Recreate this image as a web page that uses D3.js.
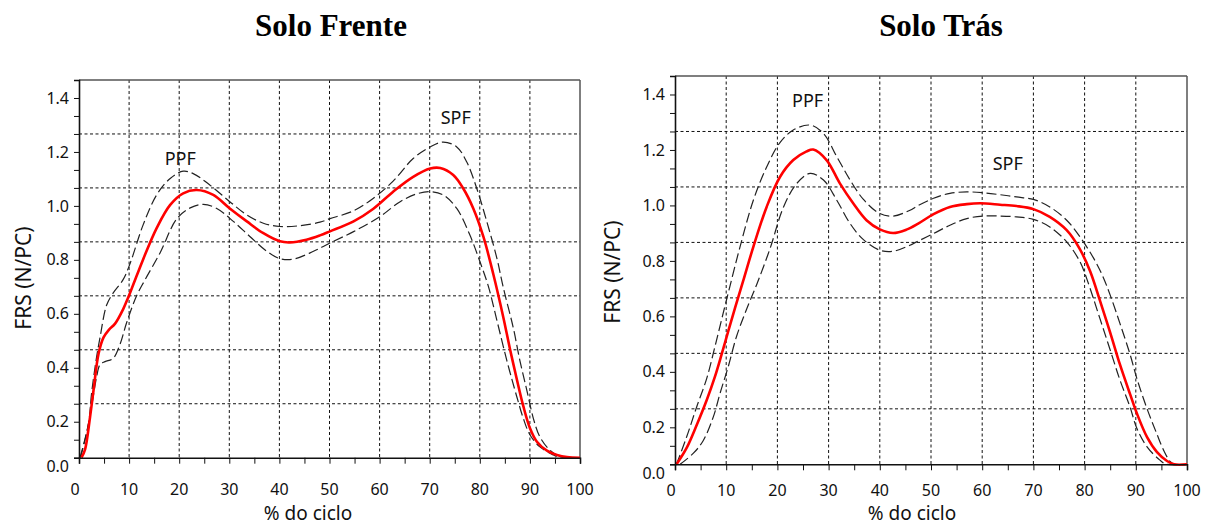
<!DOCTYPE html>
<html>
<head>
<meta charset="utf-8">
<script src="https://cdn.jsdelivr.net/npm/d3@7"></script>
<style>
  html, body { margin: 0; padding: 0; background: #fff; }
  svg { display: block; }
</style>
</head>
<body>
<svg id="chart" width="1215" height="526"></svg>
<script>
// ---------------- DATA ----------------
const panelTitles = ["Solo Frente", "Solo Trás"];
const xLabel = "% do ciclo";
const yLabel = "FRS (N/PC)";
const xTickValues = [0, 10, 20, 30, 40, 50, 60, 70, 80, 90, 100];
const yTickValues = [0, 0.2, 0.4, 0.6, 0.8, 1.0, 1.2, 1.4];
const yTickLabels = ["0.0", "0.2", "0.4", "0.6", "0.8", "1.0", "1.2", "1.4"];
const peakLabels = ["PPF", "SPF"];

// Solo Frente: [% do ciclo, FRS]
const frenteMedia = [[0.5,0],[1.2,0.03],[2.2,0.15],[2.9,0.25],[3.9,0.385],[4.9,0.446],[6,0.475],[7.2,0.497],[8.8,0.55],[9.8,0.593],[10.8,0.64],[12.8,0.735],[15.5,0.851],[18.2,0.937],[20.8,0.98],[23.5,0.992],[26.8,0.974],[30.1,0.924],[33.5,0.876],[36.8,0.832],[40.1,0.802],[42.1,0.798],[45.4,0.808],[48.1,0.824],[50.1,0.839],[54.8,0.876],[58.7,0.922],[62.7,0.986],[66.7,1.041],[70.1,1.072],[72.1,1.074],[74.7,1.048],[76.7,0.998],[78.7,0.924],[80.7,0.82],[82.7,0.68],[84.7,0.52],[86.0,0.405],[87.4,0.29],[88.7,0.19],[90.0,0.11],[91.4,0.059],[93.4,0.026],[95.4,0.01],[97.4,0.002],[100,0]];
const frenteSup = [[0.2,0],[1.9,0.127],[2.5,0.237],[3.5,0.372],[4.2,0.446],[5.5,0.565],[6.8,0.61],[8.8,0.66],[10.2,0.72],[12.8,0.863],[15.5,0.974],[18.2,1.035],[20.8,1.062],[22.8,1.053],[26.1,1.011],[30.1,0.949],[33.5,0.9],[36.8,0.869],[40.1,0.857],[44.1,0.86],[48.1,0.873],[50.1,0.886],[54.8,0.915],[58.7,0.961],[62.7,1.025],[66.7,1.109],[70.1,1.152],[72.7,1.17],[75.4,1.152],[77.4,1.096],[79.4,0.998],[81.4,0.875],[83.4,0.74],[84.7,0.63],[86.7,0.48],[88.0,0.36],[89.4,0.249],[90.7,0.145],[92.0,0.077],[94.0,0.028],[96,0.005],[100,0]];
const frenteInf = [[0.3,0],[1.5,0.09],[2.5,0.188],[3.5,0.298],[4.2,0.345],[5.2,0.356],[6.8,0.368],[8.2,0.421],[9.5,0.5],[11.5,0.6],[13.2,0.66],[16.2,0.76],[19.5,0.885],[22.2,0.926],[24.8,0.939],[27.5,0.924],[30.8,0.876],[34.1,0.82],[37.5,0.765],[40.1,0.738],[42.8,0.736],[46.8,0.765],[50.1,0.796],[54.8,0.838],[60.1,0.894],[64.1,0.949],[67.4,0.978],[70.1,0.986],[72.7,0.974],[75.4,0.924],[78.0,0.826],[80.0,0.728],[81.7,0.636],[83.4,0.51],[85.4,0.36],[87.4,0.225],[88.7,0.145],[90.0,0.085],[92.0,0.04],[94.7,0.01],[96,0],[100,0]];

// Solo Trás: [% do ciclo, FRS]
const trasMedia = [[0.3,0],[2.3,0.06],[4.2,0.14],[6.2,0.232],[7.8,0.316],[9.1,0.396],[10.4,0.48],[11.7,0.562],[13.3,0.66],[15.3,0.784],[17.9,0.928],[20.5,1.036],[23.1,1.097],[25.7,1.128],[27.0,1.135],[29.6,1.097],[32.2,1.013],[34.8,0.941],[37.4,0.88],[40.0,0.847],[42.6,0.834],[45.2,0.846],[47.5,0.868],[50.5,0.902],[53.7,0.928],[57.0,0.938],[59.6,0.941],[63.5,0.936],[66.7,0.931],[70.0,0.92],[73.2,0.892],[76.5,0.844],[79.1,0.775],[81.1,0.695],[83.0,0.59],[85.0,0.475],[86.9,0.36],[88.9,0.252],[90.2,0.184],[92.2,0.098],[94.1,0.045],[96.1,0.012],[97.5,0],[100,0]];
const trasSup = [[0.3,0],[2.3,0.1],[4.2,0.205],[6.2,0.31],[7.8,0.424],[9.4,0.544],[10.7,0.64],[12.7,0.784],[15.3,0.952],[17.9,1.072],[20.5,1.16],[23.1,1.205],[26.4,1.223],[29.0,1.193],[31.6,1.109],[34.2,1.025],[36.8,0.955],[40.0,0.904],[42.6,0.895],[45.9,0.916],[47.2,0.93],[50.5,0.959],[53.7,0.977],[57.0,0.982],[60.2,0.979],[63.5,0.972],[66.7,0.964],[70.0,0.955],[73.2,0.928],[76.5,0.88],[79.1,0.82],[81.7,0.745],[83.5,0.68],[85.0,0.61],[86.9,0.508],[88.9,0.395],[90.2,0.31],[92.2,0.2],[94.1,0.11],[95.4,0.052],[96.7,0.01],[97.5,0],[100,0]];
const trasInf = [[1.0,0],[3.6,0.04],[5.5,0.085],[7.5,0.172],[8.8,0.256],[10.4,0.352],[12.0,0.46],[14.0,0.56],[16.0,0.65],[18.6,0.78],[21.2,0.928],[23.8,1.013],[26.4,1.049],[29.0,1.025],[31.6,0.952],[34.2,0.868],[36.8,0.81],[40.0,0.772],[42.6,0.768],[45.9,0.79],[47.2,0.802],[50.5,0.832],[53.7,0.862],[57.0,0.886],[60.2,0.895],[63.5,0.895],[66.7,0.892],[70.0,0.883],[73.2,0.856],[76.5,0.802],[79.1,0.73],[80.5,0.665],[83.0,0.525],[85.0,0.412],[86.9,0.304],[88.9,0.205],[90.2,0.13],[92.2,0.063],[94.7,0.015],[96,0],[100,0]];

// peak annotation anchor points [% do ciclo, FRS]
const frentePeaks = [[20.2, 1.11], [75.2, 1.26]];
const trasPeaks = [[25.9, 1.31], [65.0, 1.085]];

// ---------------- LAYOUT ----------------
const svg = d3.select("#chart");
const panels = [
  { title: panelTitles[0], titleX: 331, left: 79, right: 580, top: 80, bottom: 457.7,
    xTickOff: 37, xLabelX: 308, yLabelX: 31, yLabelY: 278,
    media: frenteMedia, sup: frenteSup, inf: frenteInf, peaks: frentePeaks },
  { title: panelTitles[1], titleX: 941, left: 675, right: 1187, top: 76, bottom: 464.3,
    xTickOff: 32, xLabelX: 912, yLabelX: 620, yLabelY: 272,
    media: trasMedia, sup: trasSup, inf: trasInf, peaks: trasPeaks }
];

const tickFont = "'Noto Sans', 'DejaVu Sans', sans-serif";

panels.forEach(p => {
  const x = d3.scaleLinear().domain([0, 100]).range([p.left, p.right]);
  const y = d3.scaleLinear().domain([0, 1.4]).range([p.bottom, p.top]);
  const g = svg.append("g");

  // title
  g.append("text").attr("x", p.titleX).attr("y", 36)
    .attr("text-anchor", "middle")
    .attr("font-family", "'Liberation Serif', 'Times New Roman', serif")
    .attr("font-weight", "bold").attr("font-size", 31)
    .text(p.title);

  // grid
  const gridX = xTickValues.filter(v => v > 0 && v < 100);
  const gridY = yTickValues.filter(v => v > 0 && v < 1.4);
  g.append("g").selectAll("line").data(gridX).join("line")
    .attr("x1", d => x(d)).attr("x2", d => x(d))
    .attr("y1", y(1.4)).attr("y2", y(0))
    .attr("stroke", "#111").attr("stroke-width", 1)
    .attr("stroke-dasharray", "3,2.5");
  g.append("g").selectAll("line").data(gridY).join("line")
    .attr("x1", x(0)).attr("x2", x(100))
    .attr("y1", d => y(d)).attr("y2", d => y(d))
    .attr("stroke", "#111").attr("stroke-width", 1)
    .attr("stroke-dasharray", "3,2.5");

  // frame (top & right)
  g.append("line").attr("x1", x(0)).attr("x2", x(100)).attr("y1", y(1.4)).attr("y2", y(1.4))
    .attr("stroke", "#555").attr("stroke-width", 1.5);
  g.append("line").attr("x1", x(100)).attr("x2", x(100)).attr("y1", y(1.4)).attr("y2", y(0))
    .attr("stroke", "#555").attr("stroke-width", 1.5);

  // curves
  const line = d3.line().x(d => x(d[0])).y(d => y(d[1])).curve(d3.curveCatmullRom.alpha(0.5));
  g.append("path").datum(p.sup).attr("d", line)
    .attr("fill", "none").attr("stroke", "#222").attr("stroke-width", 1.2)
    .attr("stroke-dasharray", "10,4");
  g.append("path").datum(p.inf).attr("d", line)
    .attr("fill", "none").attr("stroke", "#222").attr("stroke-width", 1.2)
    .attr("stroke-dasharray", "10,4");
  g.append("path").datum(p.media).attr("d", line)
    .attr("fill", "none").attr("stroke", "#ff0000").attr("stroke-width", 2.6);

  // x axis
  const minorX = d3.range(0, 101, 5);
  const xAxis = d3.axisBottom(x).tickValues(minorX).tickSize(6).tickFormat("");
  const xa = g.append("g").attr("transform", `translate(0,${y(0)})`).call(xAxis);
  xa.select(".domain").attr("stroke", "#111").attr("stroke-width", 1.6);
  xa.selectAll(".tick line").attr("stroke", "#111").attr("stroke-width", 1);
  g.append("g").selectAll("text").data(xTickValues).join("text")
    .attr("x", d => x(d) + (d === 0 ? -4 : 0))
    .attr("y", y(0) + p.xTickOff)
    .attr("text-anchor", "middle")
    .attr("font-family", tickFont).attr("font-size", 16).attr("fill", "#111")
    .text(d => d);

  // y axis
  const minorY = d3.range(0, 22).map(i => i * 0.2 / 3);
  const yAxis = d3.axisLeft(y).tickValues(minorY).tickSize(5).tickFormat("");
  const ya = g.append("g").attr("transform", `translate(${x(0)},0)`).call(yAxis);
  ya.select(".domain").attr("stroke", "#111").attr("stroke-width", 1.6);
  ya.selectAll(".tick line").attr("stroke", "#111").attr("stroke-width", 1);
  // tick labels sit on the minor tick just below each grid line (as in the source)
  g.append("g").selectAll("text").data(yTickValues).join("text")
    .attr("x", x(0) - 10)
    .attr("y", (d) => (d === 0 ? y(0) + 9 : y(d - 0.2 / 3)) )
    .attr("dy", "0.35em")
    .attr("text-anchor", "end")
    .attr("font-family", tickFont).attr("font-size", 16).attr("fill", "#111")
    .text((d, i) => yTickLabels[i]);

  // axis titles
  g.append("text").attr("x", p.xLabelX).attr("y", 520)
    .attr("text-anchor", "middle")
    .attr("font-family", tickFont).attr("font-size", 19).attr("fill", "#111")
    .text(xLabel);
  g.append("text")
    .attr("transform", `translate(${p.yLabelX},${p.yLabelY}) rotate(-90)`)
    .attr("text-anchor", "middle")
    .attr("font-family", tickFont).attr("font-size", 21).attr("fill", "#111")
    .text(yLabel);

  // peak labels
  g.append("g").selectAll("text").data(p.peaks).join("text")
    .attr("x", d => x(d[0])).attr("y", d => y(d[1]))
    .attr("dy", "0.35em")
    .attr("text-anchor", "middle")
    .attr("font-family", tickFont).attr("font-size", 18).attr("fill", "#111")
    .text((d, i) => peakLabels[i]);
});
</script>
</body>
</html>
